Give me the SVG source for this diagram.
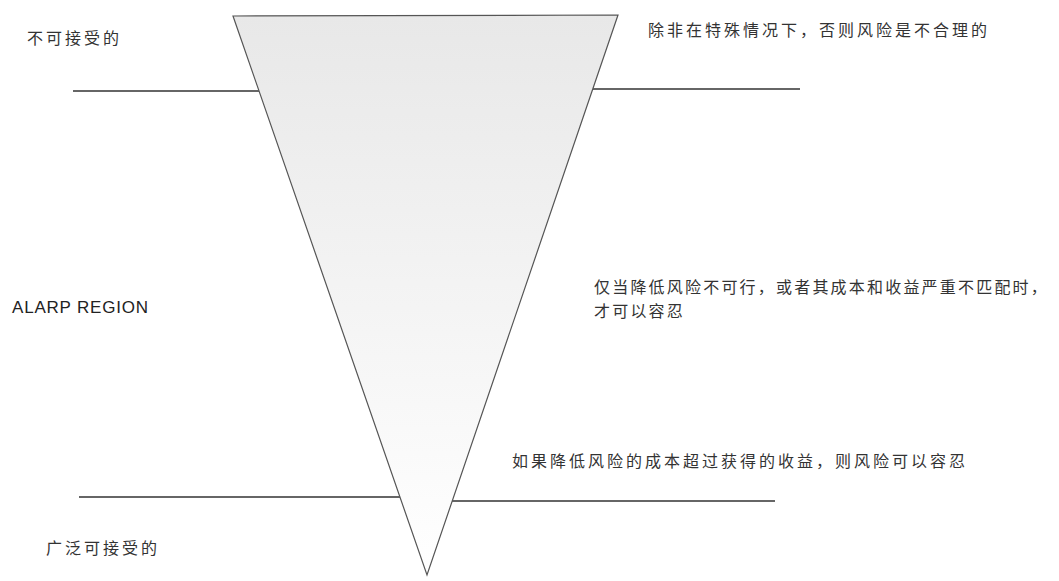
<svg xmlns="http://www.w3.org/2000/svg" width="1059" height="581" viewBox="0 0 1059 581">
<defs>
<linearGradient id="tri" x1="0" y1="0" x2="0" y2="1">
<stop offset="0" stop-color="#e8e8e8"/>
<stop offset="1" stop-color="#ffffff"/>
</linearGradient>
<style>
.zh{font-family:"Noto Sans CJK SC","Noto Sans",sans-serif;font-size:16px;letter-spacing:3px;fill:#333}
.tight{letter-spacing:2.2px}
.en{font-family:"Liberation Sans",Arial,sans-serif;font-size:17px;letter-spacing:0.8px;fill:#222}
.ln{stroke:#333;stroke-width:1.5;fill:none}
</style>
</defs>
<rect width="1059" height="581" fill="#ffffff"/>
<g id="connectors">
<line class="ln" x1="73" y1="91" x2="259" y2="91"/>
<line class="ln" x1="593" y1="89" x2="800" y2="89"/>
<line class="ln" x1="79" y1="497" x2="400" y2="497"/>
<line class="ln" x1="452" y1="501" x2="775" y2="501"/>
</g>
<g id="triangle">
<polygon points="233,16 618,15 427,575" fill="url(#tri)" stroke="#555" stroke-width="1.2"/>
</g>
<g id="label-unacceptable"><text class="zh" x="27" y="44">不可接受的</text></g>
<g id="label-top-right"><text class="zh" x="648" y="36">除非在特殊情况下，否则风险是不合理的</text></g>
<g id="label-alarp"><text class="en" x="12" y="313">ALARP REGION</text></g>
<g id="label-middle-right"><text class="zh tight" x="594" y="293">仅当降低风险不可行，或者其成本和收益严重不匹配时，</text><text class="zh tight" x="594" y="317">才可以容忍</text></g>
<g id="label-bottom-right"><text class="zh" x="512" y="467">如果降低风险的成本超过获得的收益，则风险可以容忍</text></g>
<g id="label-acceptable"><text class="zh" x="46" y="554">广泛可接受的</text></g>
</svg>
